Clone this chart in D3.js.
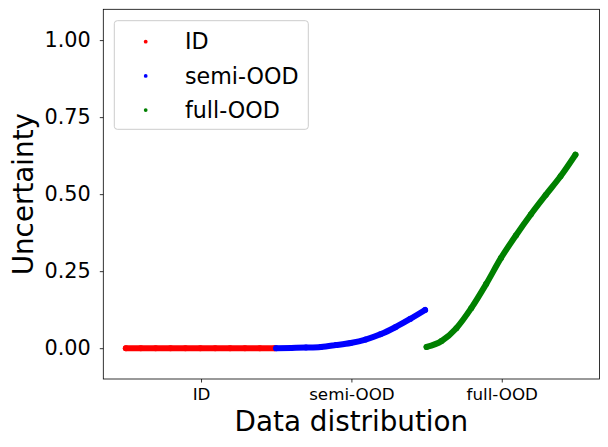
<!DOCTYPE html>
<html><head><meta charset="utf-8">
<script src="https://cdn.jsdelivr.net/npm/d3@7"></script>
<style>body{margin:0;background:#fff}svg{display:block;font-family:"DejaVu Sans",sans-serif}</style>
</head><body><svg id="c" width="608" height="447"></svg>
<script>
const categories = ["ID", "semi-OOD", "full-OOD"];
const colors = ["#ff0000", "#0000ff", "#008000"];
// sampled positions within each group (fraction of group width)
const fractions = [0, 0.1, 0.2, 0.3, 0.4, 0.5, 0.6, 0.7, 0.8, 0.9, 1.0];
const idValues   = [0, 0, 0, 0, 0, 0, 0, 0, 0, 0, 0];
const semiValues = [0.000, 0.001, 0.002, 0.004, 0.010, 0.017, 0.028, 0.045, 0.068, 0.095, 0.124];
const fullValues = [0.004, 0.023, 0.065, 0.130, 0.208, 0.293, 0.366, 0.434, 0.497, 0.558, 0.628];
const yTicks = [0.00, 0.25, 0.50, 0.75, 1.00];
const series = [idValues, semiValues, fullValues];

const svg = d3.select("#c");
const L = 103.3, R = 599.5, T = 9.3, B = 379;
const x = d3.scaleLinear().domain([-0.15, 3.15]).range([L, R]);
const y = d3.scaleLinear().domain([-0.1, 1.1]).range([B, T]);

const line = d3.line().x(d => x(d[0])).y(d => y(d[1])).curve(d3.curveMonotoneX);
series.forEach((vals, g) => {
  const pts = vals.map((v, i) => [g + fractions[i] * 0.99, v]);
  svg.append("path").attr("d", line(pts)).attr("fill", "none")
    .attr("stroke", colors[g]).attr("stroke-width", 6).attr("stroke-linecap", "round");
  svg.append("g").selectAll("circle").data(pts).join("circle")
    .attr("cx", d => x(d[0])).attr("cy", d => y(d[1])).attr("r", 3).attr("fill", colors[g]);
});

// axes
const xa = svg.append("g").attr("transform", `translate(0,${B})`)
  .call(d3.axisBottom(x).tickValues(categories.map((c, i) => i + 0.5)).tickFormat((d, i) => categories[i]).tickSize(3.5).tickSizeOuter(0));
xa.select(".domain").remove();
xa.selectAll("text").attr("font-size", "16.7px").attr("font-family", "DejaVu Sans").attr("fill", "#000").attr("dy", "0.71em").attr("y", 9);
xa.selectAll("line").attr("stroke", "#000").attr("stroke-width", 0.8);

const ya = svg.append("g").attr("transform", `translate(${L},0)`)
  .call(d3.axisLeft(y).tickValues(yTicks).tickFormat(d3.format(".2f")).tickSize(3.5).tickSizeOuter(0));
ya.select(".domain").remove();
ya.selectAll("text").attr("font-size", "20.8px").attr("font-family", "DejaVu Sans").attr("fill", "#000").attr("x", -12.5);
ya.selectAll("line").attr("stroke", "#000").attr("stroke-width", 0.8);

svg.append("rect").attr("x", L).attr("y", T).attr("width", R - L).attr("height", B - T)
  .attr("fill", "none").attr("stroke", "#000").attr("stroke-width", 0.8);

svg.append("text").attr("x", (L + R) / 2).attr("y", 431).attr("text-anchor", "middle")
  .attr("font-size", "27.8px").text("Data distribution");
svg.append("text").attr("transform", `translate(33,${(T + B) / 2}) rotate(-90)`).attr("text-anchor", "middle")
  .attr("font-size", "27.8px").text("Uncertainty");

// legend
const lg = svg.append("g");
lg.append("rect").attr("x", 114.3).attr("y", 20.7).attr("width", 194).attr("height", 108.6)
  .attr("rx", 3).attr("fill", "rgba(255,255,255,0.8)").attr("stroke", "#cccccc").attr("stroke-width", 1);
categories.forEach((c, i) => {
  const cy = 41.7 + i * 34.2;
  lg.append("circle").attr("cx", 145.7).attr("cy", cy).attr("r", 1.9).attr("fill", colors[i]);
  lg.append("text").attr("x", 185).attr("y", cy).attr("dy", "0.35em").attr("font-size", "22.2px").text(c);
});
</script></body></html>
